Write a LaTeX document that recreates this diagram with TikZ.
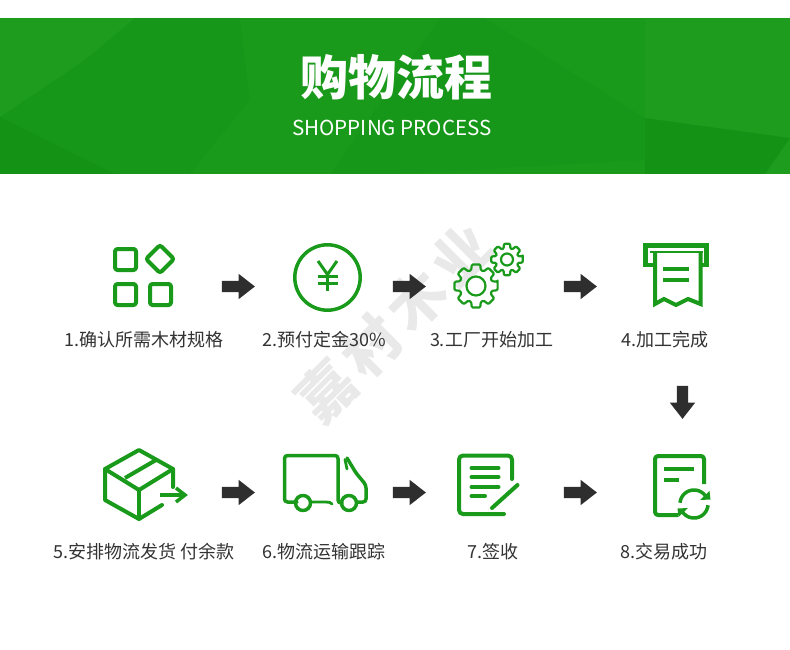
\documentclass[tikz,border=0pt]{standalone}
\usepackage{fontspec}
\setmainfont{Noto Sans CJK SC}
\usetikzlibrary{shapes.arrows}
\definecolor{bannergreen}{HTML}{1A9A1B}
\definecolor{facetdark}{HTML}{0F8C12}
\definecolor{facetlight}{HTML}{2BA52B}
\definecolor{icongreen}{HTML}{1A9A1B}
\definecolor{txt}{HTML}{333333}
\definecolor{arrowdark}{HTML}{2E2E2E}
\definecolor{wm}{HTML}{E9E9E9}
\tikzset{
  dark/.style={fill=facetdark,opacity=.2},
  darker/.style={fill=facetdark,opacity=.5},
  light/.style={fill=facetlight,opacity=.2},
  ico/.style={draw=icongreen,line width=3.5pt,line join=round,line cap=round,fill=none},
  icofill/.style={fill=icongreen},
  lbl/.style={font=\fontsize{18}{20}\selectfont,text=txt,anchor=base,inner sep=0pt},
  blockarrow/.style={single arrow,fill=arrowdark,draw=none,inner sep=0pt,outer sep=0pt,text height=11pt,text depth=0pt,text width=0pt,
     minimum height=33pt,single arrow head extend=7pt,single arrow tip angle=76},
}
\begin{document}
\begin{tikzpicture}[x=1pt,y=-1pt]
\useasboundingbox (0,0) rectangle (790,650);
\fill[white] (0,0) rectangle (790,650);
% banner
\fill[bannergreen] (0,18) rectangle (790,174);
\begin{scope}
\clip (0,18) rectangle (790,174);
\fill[light] (0,18) -- (135,18) -- (85,60) -- (0,117) -- cycle;
\fill[dark] (135,18) -- (240,18) -- (250,100) -- (190,174) -- (85,60) -- cycle;
\fill[dark] (0,117) -- (85,60) -- (190,174) -- (115,174) -- cycle;
\fill[darker] (0,117) -- (115,174) -- (0,174) -- cycle;
\fill[dark] (440,18) -- (485,18) -- (645,118) -- (645,160) -- (400,174) -- (330,174) -- cycle;
\fill[darker] (645,118) -- (790,138) -- (765,174) -- (645,174) -- cycle;
\fill[light] (645,18) -- (790,18) -- (790,138) -- (645,118) -- cycle;
\fill[light] (765,174) -- (790,138) -- (790,174) -- cycle;
\end{scope}
\node[font=\bfseries\fontsize{48}{52}\selectfont,text=white,inner sep=0pt] (title) at (396.5,77) {购物流程};
\node[font=\fontsize{20.6}{24}\selectfont,text=white,inner sep=0pt] (subtitle) at (392,127.5) {SHOPPING PROCESS};
% watermark
\node[font=\bfseries\fontsize{57}{60}\selectfont,text=wm,rotate=45,inner sep=0pt] (watermark) at (394,323) {嘉\kern7pt村\kern7pt木\kern7pt业};
% arrows
\node[blockarrow] (a1) at (234.7,286.5) {};
\node[blockarrow] (a2) at (405.7,286.5) {};
\node[blockarrow] (a3) at (576.7,286.5) {};
\node[blockarrow,rotate=-90] (a4) at (682.5,398.7) {};
\node[blockarrow] (a5) at (234.7,492.5) {};
\node[blockarrow] (a6) at (405.7,492.5) {};
\node[blockarrow] (a7) at (576.7,492.5) {};
% labels
\node[lbl] (l1) at (143.8,346.3) {1.确认所需木材规格};
\node[lbl] (l2) at (323.8,346.3) {2.预付定金30\%};
\node[lbl] (l3) at (491.5,346.3) {3.工厂开始加工};
\node[lbl] (l4) at (665.3,346.3) {4.加工完成};
\node[lbl] (l5) at (143.8,558.3) {5.安排物流发货 付余款};
\node[lbl] (l6) at (323.8,558.3) {6.物流运输跟踪};
\node[lbl] (l7) at (492.8,558.3) {7.签收};
\node[lbl] (l8) at (663.8,558.3) {8.交易成功};
% icon 1
\draw[ico,line width=4pt,rounded corners=2.5pt] (115,249) rectangle (136,270);
\draw[ico,line width=4pt,rounded corners=2.5pt] (115,284) rectangle (136,305);
\draw[ico,line width=4pt,rounded corners=2.5pt] (150,284) rectangle (171,305);
\draw[ico,line width=4pt,rounded corners=2.5pt] (160,245) -- (174,259) -- (160,273) -- (146,259) -- cycle;
% icon 2
\draw[ico,line width=3.5pt] (327.5,277.5) circle[radius=32.7];
\draw[ico,line width=3pt,line cap=butt,line join=miter] (318,261) -- (327.5,274.5) -- (337,261);
\draw[ico,line width=3pt,line cap=butt] (327.5,274.5) -- (327.5,291);
\draw[ico,line width=3pt,line cap=butt] (317.5,276.5) -- (337.5,276.5);
\draw[ico,line width=3pt,line cap=butt] (317.5,283.5) -- (337.5,283.5);
% icon 3
\begin{scope}[shift={(476,286)}]
\draw[ico,line width=2.2pt,rounded corners=1.2pt] (-11:22)
  \foreach \a in {0,45,...,315}{ -- (\a-11:22) -- (\a+11:22) -- (\a+17:16.5) -- (\a+28:16.5) }  -- cycle;
\draw[ico,line width=2.2pt] (0,0) circle[radius=9.5];
\end{scope}
\begin{scope}[shift={(507,259.5)}]
\draw[ico,line width=2.2pt,rounded corners=1pt] (-11:16)
  \foreach \a in {0,45,...,315}{ -- (\a-11:16) -- (\a+11:16) -- (\a+17:11.5) -- (\a+28:11.5) }  -- cycle;
\draw[ico,line width=2.2pt] (0,0) circle[radius=6];
\end{scope}
% icon 4
\draw[ico,line width=4.5pt,line cap=butt,line join=miter] (645.5,265) -- (645.5,245.5) -- (706.5,245.5) -- (706.5,265) -- (699,265);
\draw[ico,line width=4.5pt,line cap=butt] (643.3,265) -- (656,265);
\draw[ico,line width=2pt,line cap=butt] (650,252) -- (703,252);
\draw[ico,line width=4pt,line cap=butt,line join=miter] (655,252) -- (655,304) -- (664,299) -- (676,305) -- (688,299) -- (700.5,304) -- (700.5,252);
\draw[ico,line width=4pt,line cap=butt] (663,269) -- (689,269);
\draw[ico,line width=4pt,line cap=butt] (663,280) -- (689,280);
% icon 5
\draw[ico,line width=4pt] (173,487) -- (173,469) -- (139,450) -- (105,469) -- (105,500) -- (139,519) -- (162,505);
\draw[ico,line width=4pt] (105,469) -- (139,490) -- (173,469);
\draw[ico,line width=4pt] (139,490) -- (139,519);
\draw[ico,line width=4pt,line cap=butt] (125,478) -- (156,460);
\draw[ico,line width=3.5pt,line cap=butt] (160,495) -- (185,495);
\draw[ico,line width=3.5pt,line join=miter,line cap=butt] (176,488) -- (185,495) -- (176,502);
% icon 6
\draw[ico,rounded corners=3pt] (297,502) -- (284.5,502) -- (284.5,455.5) -- (338,455.5) -- (338,503) -- (342,503);
\draw[ico] (303,503) circle[radius=7.5];
\draw[ico] (349,503) circle[radius=7.5];
\draw[ico,line width=2.8pt] (311,502) -- (326,502) .. controls (329,502) and (331,502.5) .. (332,504);
\draw[ico,rounded corners=3pt] (347,458) -- (356,473) -- (366,485) -- (366,502) -- (357,502);
\draw[ico,line width=2.8pt] (345,459.5) -- (347,469);
% icon 7
\draw[ico,line width=4pt,rounded corners=4pt] (512,479) -- (512,455.5) -- (459,455.5) -- (459,514) -- (504,514);
\draw[ico,line width=4pt] (471.5,468) -- (498.5,468);
\draw[ico,line width=4pt] (471.5,477) -- (498.5,477);
\draw[ico,line width=4pt] (471.5,487) -- (498.5,487);
\draw[ico,line width=4pt] (471.5,496) -- (485,496);
\draw[ico,line width=4pt] (492,508) -- (517.5,485);
% icon 8
\draw[ico,line width=4pt,rounded corners=3pt,line cap=butt] (704,484) -- (704,456) -- (655,456) -- (655,515) -- (678,515);
\draw[ico,line cap=butt,line width=4pt] (664,469) -- (694,469);
\draw[ico,line cap=butt,line width=4pt] (664,480) -- (679,480);
\draw[ico,line cap=butt,line width=3.5pt] plot[domain=185:325,samples=25,smooth] ({694+14*cos(\x)},{504+14*sin(\x)});
\draw[ico,line cap=butt,line width=3.5pt] plot[domain=5:145,samples=25,smooth] ({694+14*cos(\x)},{504+14*sin(\x)});
\fill[icofill] (700,500) -- (710.5,499.5) -- (709.5,491) -- cycle;
\fill[icofill] (688,508) -- (677.5,508.5) -- (678.5,517) -- cycle;
\end{tikzpicture}
\end{document}
